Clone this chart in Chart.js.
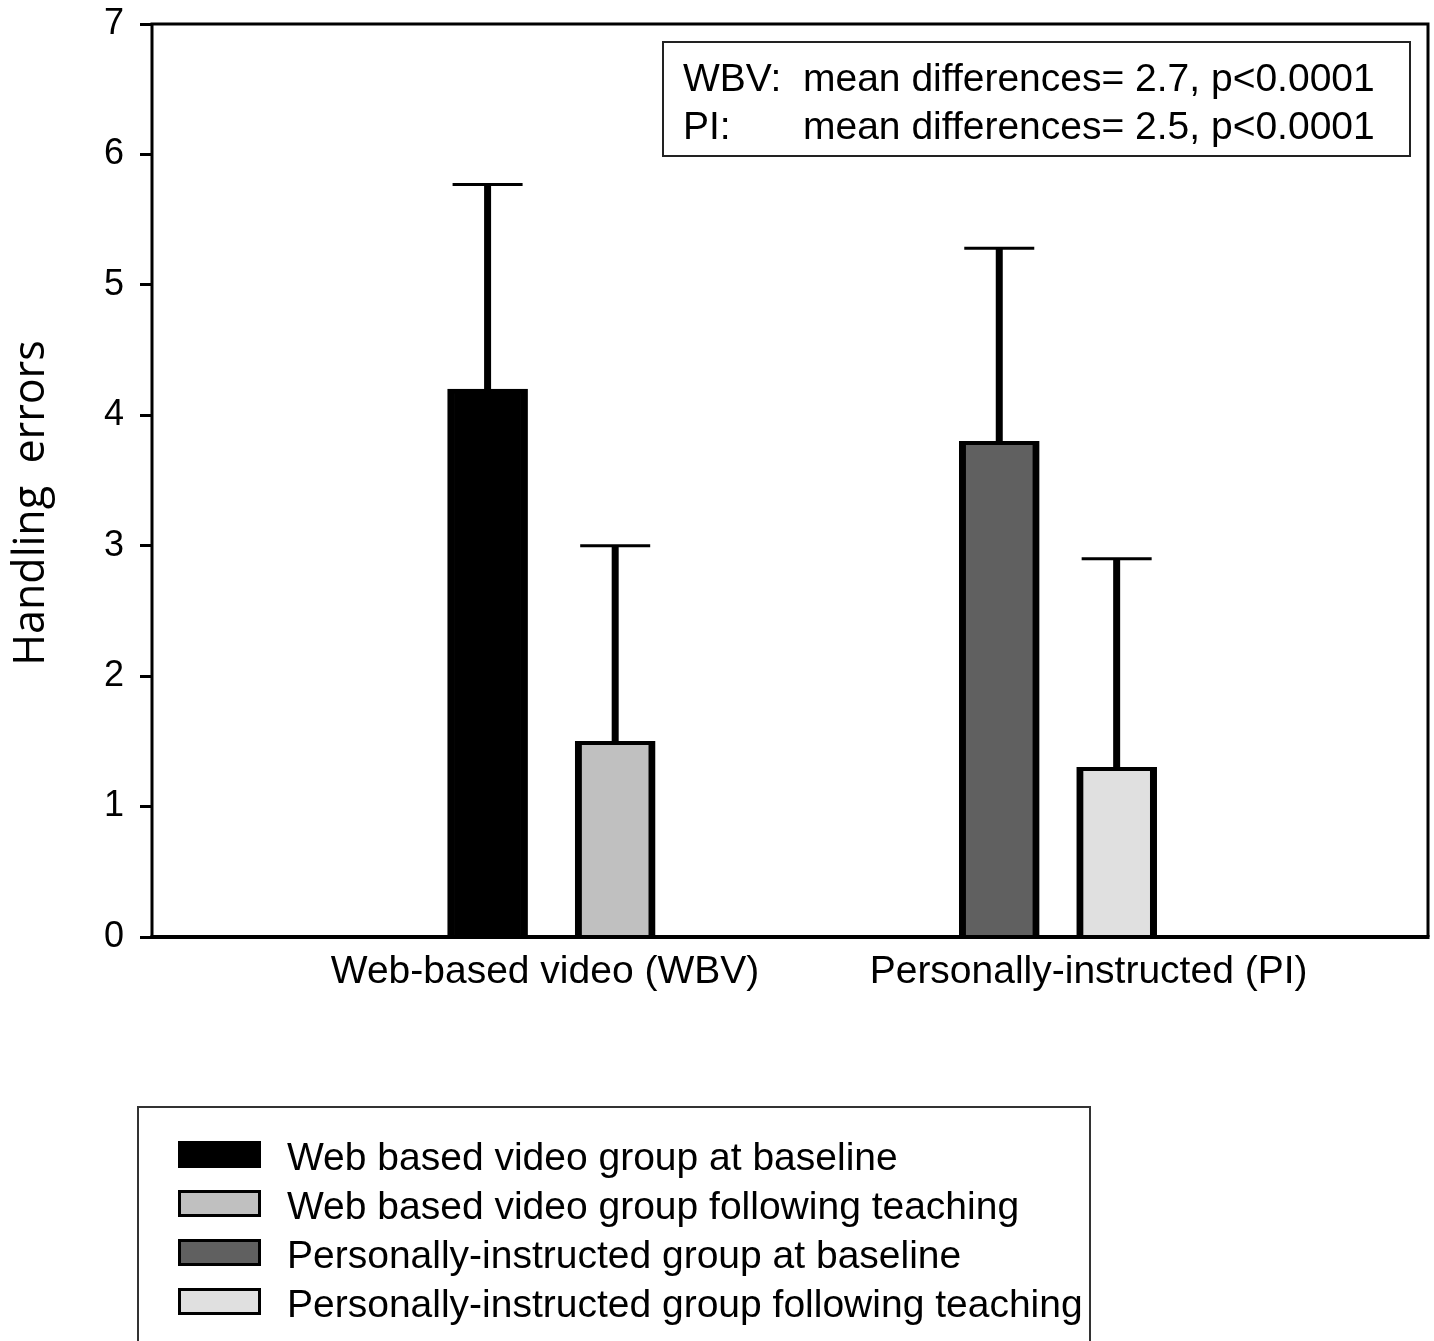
<!DOCTYPE html>
<html>
<head>
<meta charset="utf-8">
<script src="https://cdn.jsdelivr.net/npm/chart.js@4.4.1/dist/chart.umd.min.js"></script>
<style>
  html, body { margin: 0; padding: 0; background: #fff; }
  #wrap { width: 1434px; height: 1341px; }
</style>
</head>
<body>
<div id="wrap"><canvas id="chart" width="1434" height="1341"></canvas></div>
<script>
// data
const seriesNames = [
  "Web based video group at baseline",
  "Web based video group following teaching",
  "Personally-instructed group at baseline",
  "Personally-instructed group following teaching"
];
const meanErrors = [4.2, 1.5, 3.8, 1.3];
const upperError = [1.57, 1.5, 1.48, 1.6];
const barPosition = [2.63, 3.63, 6.64, 7.56];   // x in axis units (0..10)
const barColors = ["#000000", "#c0c0c0", "#606060", "#e0e0e0"];

const groupLabels = ["Web-based video (WBV)", "Personally-instructed (PI)"];
const groupPosition = [3.08, 7.34];

const yTicks = [0, 1, 2, 3, 4, 5, 6, 7];
const yTitle = "Handling  errors";
const noteLines = [
  ["WBV:", "mean differences= 2.7, p<0.0001"],
  ["PI:", "mean differences= 2.5, p<0.0001"]
];

const FONT = "'Liberation Sans', Arial, sans-serif";

const datasets = seriesNames.map((name, i) => ({
  label: name,
  data: [{ x: barPosition[i], y: meanErrors[i] }],
  backgroundColor: barColors[i],
  borderColor: "#000",
  borderWidth: { left: 7, right: 7, top: 4, bottom: 0 },
  borderSkipped: false,
  barThickness: 80,
  grouped: false
}));

// error bars (upper only)
const errorBars = {
  id: "errorBars",
  afterDatasetsDraw(chart) {
    const ctx = chart.ctx;
    const y = chart.scales.y;
    ctx.save();
    ctx.strokeStyle = "#000";
    chart.data.datasets.forEach((ds, i) => {
      const el = chart.getDatasetMeta(i).data[0];
      const top = y.getPixelForValue(meanErrors[i] + upperError[i]);
      ctx.lineWidth = 7;
      ctx.beginPath();
      ctx.moveTo(el.x, el.y);
      ctx.lineTo(el.x, top);
      ctx.stroke();
      ctx.lineWidth = 3;
      ctx.beginPath();
      ctx.moveTo(el.x - 35, top);
      ctx.lineTo(el.x + 35, top);
      ctx.stroke();
    });
    ctx.restore();
  }
};

// frame, axis title, note box and legend
const decorations = {
  id: "decorations",
  afterDraw(chart) {
    const ctx = chart.ctx;
    const a = chart.chartArea;
    ctx.save();
    ctx.strokeStyle = "#000";
    ctx.lineWidth = 3;
    ctx.beginPath();
    ctx.moveTo(a.left, a.bottom);
    ctx.lineTo(a.left, a.top);
    ctx.lineTo(a.right, a.top);
    ctx.lineTo(a.right, a.bottom);
    ctx.stroke();
    ctx.lineWidth = 4;
    ctx.beginPath();
    ctx.moveTo(a.left - 1.5, a.bottom);
    ctx.lineTo(a.right + 1.5, a.bottom);
    ctx.stroke();

    // y title
    ctx.save();
    ctx.translate(32, 503);
    ctx.rotate(-Math.PI / 2);
    ctx.fillStyle = "#000";
    ctx.font = "43px 'Open Sans', sans-serif";
    ctx.textAlign = "center";
    ctx.textBaseline = "middle";
    ctx.fillText(yTitle, 0, 0);
    ctx.restore();

    // note box
    ctx.lineWidth = 2;
    ctx.strokeStyle = "#222";
    ctx.strokeRect(663, 42, 747, 114);
    ctx.fillStyle = "#000";
    ctx.font = "39px " + FONT;
    ctx.textBaseline = "alphabetic";
    noteLines.forEach((ln, i) => {
      ctx.fillText(ln[0], 683, 91 + i * 48);
      ctx.fillText(ln[1], 803, 91 + i * 48);
    });

    // legend
    ctx.strokeStyle = "#333";
    ctx.lineWidth = 2;
    ctx.strokeRect(138, 1107, 952, 250);
    ctx.font = "39px " + FONT;
    seriesNames.forEach((name, i) => {
      const top = 1141 + i * 49;
      ctx.fillStyle = barColors[i];
      ctx.fillRect(178, top, 83, 27);
      ctx.strokeStyle = "#000";
      ctx.lineWidth = 3;
      ctx.strokeRect(179.5, top + 1.5, 80, 24);
      ctx.fillStyle = "#000";
      ctx.fillText(name, 287, top + 29);
    });
    ctx.restore();
  }
};

new Chart(document.getElementById("chart"), {
  type: "bar",
  data: { datasets },
  options: {
    responsive: false,
    animation: false,
    layout: { padding: { top: 24, right: 6, left: 0, bottom: 344 } },
    plugins: { legend: { display: false }, tooltip: { enabled: false } },
    scales: {
      x: {
        type: "linear",
        min: 0,
        max: 10,
        offset: false,
        grid: { display: false, drawTicks: false },
        border: { display: false },
        afterFit: s => { s.height = 60; s.paddingLeft = 0; s.paddingRight = 0; },
        afterBuildTicks: s => { s.ticks = groupPosition.map(v => ({ value: v })); },
        ticks: {
          padding: 12,
          color: "#000",
          font: { family: FONT, size: 39 },
          callback: (v, i) => groupLabels[i]
        }
      },
      y: {
        min: 0,
        max: 7,
        grid: { drawOnChartArea: false, drawTicks: true, tickLength: 12, color: "#000", lineWidth: 3 },
        border: { display: false },
        afterFit: s => { s.width = 152; s.paddingTop = 0; s.paddingBottom = 0; },
        afterBuildTicks: s => { s.ticks = yTicks.map(v => ({ value: v })); },
        ticks: {
          padding: 16,
          color: "#000",
          font: { family: FONT, size: 36 }
        }
      }
    }
  },
  plugins: [errorBars, decorations]
});
</script>
</body>
</html>
